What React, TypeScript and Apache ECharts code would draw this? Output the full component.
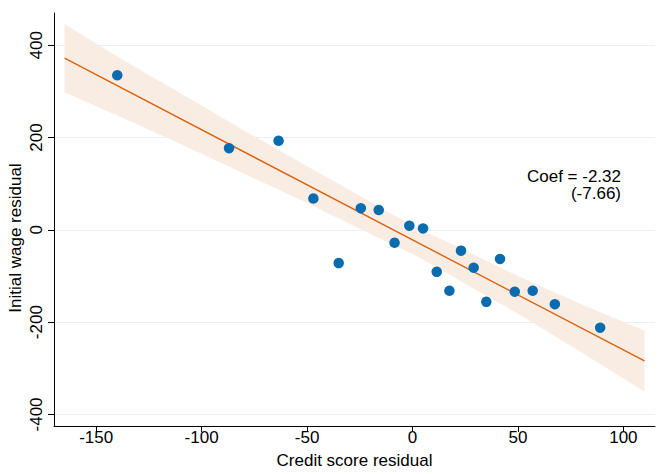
import { useRef, useEffect } from 'react'
import * as echarts from 'echarts'

// residuals
const creditResid = [-140, -87, -63.5, -47, -35, -24.5, -16, -8.5, -1.5, 5, 11.5, 17.5, 23, 29, 35, 41.5, 48.5, 57, 67.5, 89]
const wageResid = [335, 177, 193, 68, -72, 47, 43, -28, 9, 3, -91, -132, -45, -82, -156, -63, -134, -132, -161, -212]

// fitted line and its confidence band
const fitX = [-165, 110]
const fitY = [372, -284]
const bandX = [-165, -140, -110, -80, -50, -20, 0, 20, 50, 80, 110]
const bandHi = [446, 376, 296, 216, 138, 61, 9, -34, -100, -161, -218]
const bandLo = [298, 248, 186, 122, 58, -9, -52, -104, -182, -265, -350]

const xTicks = [-150, -100, -50, 0, 50, 100]
const yTicks = [-400, -200, 0, 200, 400]

const FONT = '"Liberation Sans", Arial, sans-serif'
const FS = 17

export default function App() {
  const containerRef = useRef<HTMLDivElement>(null)

  useEffect(() => {
    const el = containerRef.current
    if (!el) return
    const chart = echarts.init(el, null, { renderer: 'svg' })

    const option: echarts.EChartsOption = {
      animation: false,
      backgroundColor: '#fff',
      textStyle: { fontFamily: FONT },
      grid: { left: 54, right: 3, top: 13, bottom: 47 },
      xAxis: {
        type: 'value',
        min: -170,
        max: 115,
        name: 'Credit score residual',
        nameLocation: 'middle',
        nameGap: 26,
        nameTextStyle: { color: '#000', fontSize: FS, fontFamily: FONT },
        axisLine: { show: true, onZero: false, lineStyle: { color: '#000', width: 1 } },
        axisTick: { show: true, length: 6, customValues: xTicks, lineStyle: { color: '#000' } },
        axisLabel: { customValues: xTicks, color: '#000', fontSize: FS, margin: 3, fontFamily: FONT },
        splitLine: { show: false }
      },
      yAxis: {
        type: 'value',
        min: -425,
        max: 470,
        axisLine: { show: true, onZero: false, lineStyle: { color: '#000', width: 1 } },
        axisTick: { show: true, length: 6, customValues: yTicks, lineStyle: { color: '#000' } },
        axisLabel: { customValues: yTicks, rotate: 90, color: '#000', fontSize: FS, margin: 9, fontFamily: FONT },
        splitLine: { show: true, lineStyle: { color: '#e8f0f2', width: 1 } }
      },
      graphic: [
        {
          type: 'text',
          x: 15,
          y: 238,
          rotation: Math.PI / 2,
          style: { text: 'Initial wage residual', fill: '#000', fontSize: FS, fontFamily: FONT, align: 'center', verticalAlign: 'middle' }
        },
        {
          type: 'text',
          x: 621,
          y: 176,
          style: { text: 'Coef = -2.32', fill: '#000', fontSize: FS, fontFamily: FONT, align: 'right', verticalAlign: 'middle' }
        },
        {
          type: 'text',
          x: 621,
          y: 193.5,
          style: { text: '(-7.66)', fill: '#000', fontSize: FS, fontFamily: FONT, align: 'right', verticalAlign: 'middle' }
        }
      ],
      series: [
        {
          type: 'custom',
          data: bandX.map((x, i) => [x, bandLo[i], bandHi[i]]),
          silent: true,
          z: 1,
          renderItem: (params: any, api: any) => {
            if (params.dataIndex !== 0) return { type: 'group', children: [] }
            const upper = bandX.map((x, i) => api.coord([x, bandHi[i]]))
            const lower = bandX.map((x, i) => api.coord([x, bandLo[i]])).reverse()
            return {
              type: 'polygon',
              shape: { points: upper.concat(lower) },
              style: { fill: '#f9ece3', stroke: 'none' }
            }
          }
        },
        {
          type: 'line',
          data: fitX.map((x, i) => [x, fitY[i]]),
          symbol: 'none',
          lineStyle: { color: '#d9630f', width: 1.4 },
          silent: true,
          z: 2
        },
        {
          type: 'scatter',
          data: creditResid.map((x, i) => [x, wageResid[i]]),
          symbolSize: 10.5,
          itemStyle: { color: '#0a6cb0', opacity: 1 },
          z: 3
        }
      ]
    }
    chart.setOption(option)

    return () => {
      chart.dispose()
    }
  }, [])

  return (
    <div
      ref={containerRef}
      style={{ position: 'absolute', left: 0, top: 0, width: 658, height: 474 }}
    />
  )
}
